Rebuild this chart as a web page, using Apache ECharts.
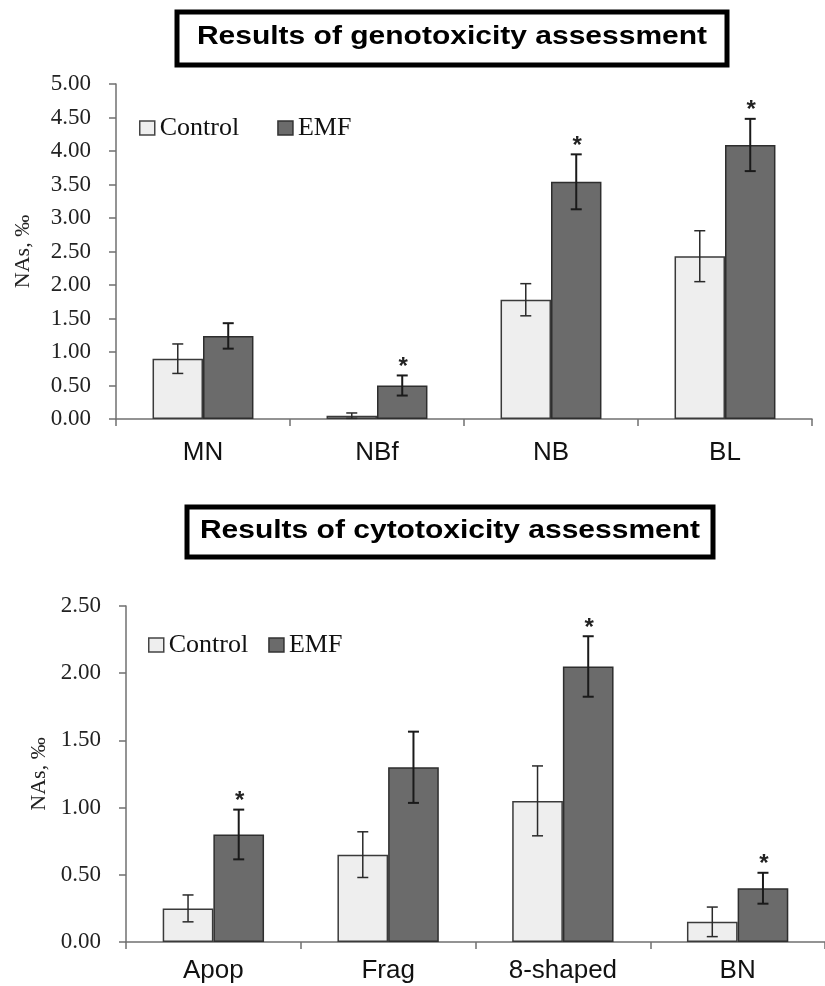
<!DOCTYPE html>
<html>
<head>
<meta charset="utf-8">
<title>Genotoxicity and cytotoxicity</title>
<script src="https://cdn.jsdelivr.net/npm/echarts@6/dist/echarts.min.js"></script>
<style>
  html, body { margin: 0; padding: 0; background: #ffffff; }
  #chart { width: 825px; height: 986px; }
</style>
</head>
<body>
<div id="chart"></div>
<script>
// Genotoxicity panel (NAs, per mille)
const geneCategories = ['MN', 'NBf', 'NB', 'BL'];
const geneControl = [0.90, 0.05, 1.78, 2.43];
const geneControlErr = [0.22, 0.04, 0.24, 0.38];
const geneEmf = [1.24, 0.50, 3.54, 4.09];
const geneEmfErr = [0.19, 0.15, 0.41, 0.39];
const geneEmfSig = [0, 1, 1, 1];
const geneTicks = ['0.00', '0.50', '1.00', '1.50', '2.00', '2.50', '3.00', '3.50', '4.00', '4.50', '5.00'];

// Cytotoxicity panel (NAs, per mille)
const cytoCategories = ['Apop', 'Frag', '8-shaped', 'BN'];
const cytoControl = [0.25, 0.65, 1.05, 0.15];
const cytoControlErr = [0.10, 0.17, 0.26, 0.11];
const cytoEmf = [0.80, 1.30, 2.05, 0.40];
const cytoEmfErr = [0.185, 0.265, 0.225, 0.115];
const cytoEmfSig = [1, 0, 1, 1];
const cytoTicks = ['0.00', '0.50', '1.00', '1.50', '2.00', '2.50'];

const seriesNames = ['Control', 'EMF'];
const titles = ['Results of genotoxicity assessment', 'Results of cytotoxicity assessment'];

const BAR_FRAC = 0.29;
const SERIF = '"Liberation Serif", "Times New Roman", serif';
const SANS = '"Liberation Sans", Arial, sans-serif';
const controlStyle = { color: '#eeeeee', borderColor: '#3a3a3a', borderWidth: 1.5 };
const emfStyle = { color: '#6b6b6b', borderColor: '#2e2e2e', borderWidth: 1.5 };

// rows: [categoryIndex, low, high, side(-1 control / +1 EMF), significant]
function errRows(vals, errs, side, sig) {
  return vals.map((v, i) => [i, v - errs[i], v + errs[i], side, sig ? sig[i] : 0]);
}

function renderError(params, api) {
  const idx = api.value(0);
  const side = api.value(3);
  const sig = api.value(4);
  const band = api.size([1, 0])[0];
  const off = side * band * BAR_FRAC / 2;
  const hi = api.coord([idx, api.value(2)]);
  const lo = api.coord([idx, api.value(1)]);
  const x = hi[0] + off;
  const cap = 5.5;
  const col = side < 0 ? '#2a2a2a' : '#1a1a1a';
  const lw = side < 0 ? 1.5 : 2;
  const children = [
    { type: 'line', shape: { x1: x, y1: hi[1], x2: x, y2: lo[1] }, style: { stroke: col, lineWidth: lw } },
    { type: 'line', shape: { x1: x - cap, y1: hi[1], x2: x + cap, y2: hi[1] }, style: { stroke: col, lineWidth: lw } },
    { type: 'line', shape: { x1: x - cap, y1: lo[1], x2: x + cap, y2: lo[1] }, style: { stroke: col, lineWidth: lw } }
  ];
  if (sig) {
    children.push({
      type: 'text',
      style: {
        x: x + 1, y: hi[1] - 8, text: '*', align: 'center', verticalAlign: 'middle',
        font: 'bold 24px ' + SANS, fill: '#222'
      }
    });
  }
  return { type: 'group', children: children };
}

function yAxisFor(gridIndex, ticks, nameGap) {
  const step = Number(ticks[1]) - Number(ticks[0]);
  return {
    type: 'value', gridIndex: gridIndex,
    min: Number(ticks[0]), max: Number(ticks[ticks.length - 1]), interval: step,
    name: 'NAs, \u2030', nameLocation: 'middle', nameRotate: 90, nameGap: nameGap,
    nameTextStyle: { fontFamily: SERIF, fontSize: 22, color: '#222' },
    axisLine: { show: true, lineStyle: { color: '#707070', width: 1.5 } },
    axisTick: { show: true, inside: false, length: 7, lineStyle: { color: '#707070', width: 1.5 } },
    splitLine: { show: false },
    axisLabel: {
      margin: 25, fontFamily: SERIF, fontSize: 23, color: '#222',
      formatter: v => ticks[Math.round((v - Number(ticks[0])) / step)]
    }
  };
}

function xAxisFor(gridIndex, cats, margin) {
  return {
    type: 'category', gridIndex: gridIndex, data: cats,
    axisLine: { show: true, lineStyle: { color: '#707070', width: 1.5 } },
    axisTick: { show: true, alignWithLabel: false, length: 7, lineStyle: { color: '#707070', width: 1.5 } },
    axisLabel: { margin: margin, fontFamily: SANS, fontSize: 26, color: '#111' }
  };
}

function barSeries(name, axisIdx, data, style) {
  return {
    name: name, type: 'bar', xAxisIndex: axisIdx, yAxisIndex: axisIdx,
    data: data, barWidth: (BAR_FRAC * 100) + '%', barGap: '0%',
    itemStyle: style, emphasis: { disabled: true }, animation: false
  };
}

function errSeries(axisIdx, rows) {
  return {
    type: 'custom', xAxisIndex: axisIdx, yAxisIndex: axisIdx,
    data: rows, renderItem: renderError, z: 5, animation: false, silent: true
  };
}

function legendAt(left, top, gap) {
  return {
    left: left, top: top, padding: 0, itemGap: gap, itemWidth: 15, itemHeight: 14,
    icon: 'rect', selectedMode: false,
    textStyle: { fontFamily: SERIF, fontSize: 26, color: '#111', padding: [2, 0, 0, 0] },
    data: [
      { name: seriesNames[0], itemStyle: { color: '#eeeeee', borderColor: '#444', borderWidth: 1.5 } },
      { name: seriesNames[1], itemStyle: { color: '#6b6b6b', borderColor: '#333', borderWidth: 1.5 } }
    ]
  };
}

function titleBox(x, y, w, h, text, fontSize, stretch) {
  return {
    type: 'group', left: x, top: y,
    children: [
      { type: 'rect', shape: { x: 0, y: 0, width: w, height: h },
        style: { fill: '#ffffff', stroke: '#000000', lineWidth: 5 } },
      { type: 'text', x: w / 2, y: h / 2 - 1, scaleX: stretch,
        style: { text: text, align: 'center', verticalAlign: 'middle',
                 font: 'bold ' + fontSize + 'px ' + SANS, fill: '#000' } }
    ]
  };
}

const chart = echarts.init(document.getElementById('chart'), null, { renderer: 'canvas' });

chart.setOption({
  backgroundColor: '#ffffff',
  animation: false,
  grid: [
    { left: 116, right: 13, top: 84, bottom: 567, containLabel: false },
    { left: 126, right: -4, top: 606, bottom: 44, containLabel: false }
  ],
  xAxis: [xAxisFor(0, geneCategories, 21), xAxisFor(1, cytoCategories, 16)],
  yAxis: [yAxisFor(0, geneTicks, 82), yAxisFor(1, cytoTicks, 75)],
  legend: [legendAt(139, 115, 38), legendAt(148, 632, 20)],
  graphic: [
    titleBox(174.5, 9.5, 550, 53, titles[0], 25, 1.2),
    titleBox(184.5, 504.5, 526, 50, titles[1], 25, 1.2)
  ],
  series: [
    barSeries(seriesNames[0], 0, geneControl, controlStyle),
    barSeries(seriesNames[1], 0, geneEmf, emfStyle),
    errSeries(0, errRows(geneControl, geneControlErr, -1, null).concat(errRows(geneEmf, geneEmfErr, 1, geneEmfSig))),
    barSeries(seriesNames[0], 1, cytoControl, controlStyle),
    barSeries(seriesNames[1], 1, cytoEmf, emfStyle),
    errSeries(1, errRows(cytoControl, cytoControlErr, -1, null).concat(errRows(cytoEmf, cytoEmfErr, 1, cytoEmfSig)))
  ]
});
</script>
</body>
</html>
